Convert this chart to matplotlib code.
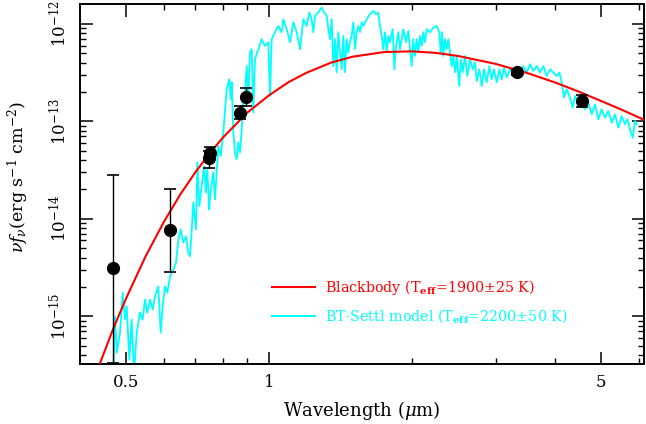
import numpy as np
import matplotlib
matplotlib.use('Agg')
import matplotlib.pyplot as plt
from matplotlib import rcParams
from matplotlib.lines import Line2D
from matplotlib.ticker import FixedLocator, NullFormatter, LogLocator

rcParams['font.family'] = 'DejaVu Serif'
rcParams['mathtext.fontset'] = 'dejavuserif'

# photometry (wavelength in micron, nu f_nu in erg/s/cm2)
phot_wave = [0.469, 0.619, 0.746, 0.752, 0.869, 0.894, 3.33, 4.56]
phot_flux = [3.1e-15, 7.7e-15, 4.25e-14, 4.75e-14, 1.21e-13, 1.77e-13, 3.19e-13, 1.61e-13]
phot_lo = [3.35e-16, 2.85e-15, 3.3e-14, 4.2e-14, 1.05e-13, 1.43e-13, 3.0e-13, 1.39e-13]
phot_hi = [2.83e-14, 2.04e-14, 5.0e-14, 5.4e-14, 1.43e-13, 2.18e-13, 3.38e-13, 1.85e-13]

# blackbody, Teff = 1900 K
bb_wave = [0.42, 0.44, 0.47, 0.50, 0.55, 0.60, 0.65, 0.70, 0.75, 0.80, 0.90, 1.00,
           1.10, 1.20, 1.35, 1.50, 1.75, 2.00, 2.25, 2.50, 3.00, 3.50, 4.00, 4.50,
           5.00, 5.50, 6.00, 6.50]
bb_flux = [1.72e-16, 3.23e-16, 7.46e-16, 1.52e-15, 4.14e-15, 9.20e-15, 1.77e-14,
           3.01e-14, 4.69e-14, 6.83e-14, 1.23e-13, 1.85e-13, 2.53e-13, 3.16e-13,
           4.00e-13, 4.61e-13, 5.15e-13, 5.23e-13, 5.04e-13, 4.69e-13, 3.89e-13,
           3.13e-13, 2.51e-13, 2.01e-13, 1.62e-13, 1.33e-13, 1.10e-13, 9.18e-14]

# BT-Settl model spectrum, log10 wavelength (micron) and log10 nu f_nu
settl_logwave = [
    -0.3305, -0.3278, -0.3242, -0.3206, -0.3137, -0.3080, -0.3032, -0.2996, -0.2941,
    -0.2891, -0.2842, -0.2785, -0.2716, -0.2659, -0.2611, -0.2562, -0.2505, -0.2448,
    -0.2400, -0.2331, -0.2280, -0.2238, -0.2189, -0.2141, -0.2084, -0.2015, -0.1958,
    -0.1909, -0.1859, -0.1804, -0.1747, -0.1699, -0.1663, -0.1627, -0.1594, -0.1537,
    -0.1509, -0.1467, -0.1417, -0.1368, -0.1326, -0.1299, -0.1257, -0.1242, -0.1173,
    -0.1137, -0.1067, -0.1017, -0.0962, -0.0891, -0.0836, -0.0806, -0.0785, -0.0752,
    -0.0716, -0.0680, -0.0646, -0.0611, -0.0575, -0.0541, -0.0505, -0.0469, -0.0436,
    -0.0400, -0.0364, -0.0331, -0.0295, -0.0225, -0.0154, -0.0084, -0.0015, 0.0021,
    0.0057, 0.0126, 0.0196, 0.0267, 0.0301, 0.0373, 0.0442, 0.0512, 0.0583, 0.0653,
    0.0722, 0.0794, 0.0848, 0.0899, 0.0933, 0.0968, 0.1038, 0.1109, 0.1158, 0.1215,
    0.1248, 0.1284, 0.1320, 0.1341, 0.1354, 0.1389, 0.1425, 0.1459, 0.1495, 0.1531,
    0.1564, 0.1600, 0.1636, 0.1669, 0.1705, 0.1741, 0.1775, 0.1811, 0.1846, 0.1880,
    0.1916, 0.1952, 0.1985, 0.2057, 0.2126, 0.2196, 0.2253, 0.2301, 0.2337, 0.2373,
    0.2406, 0.2442, 0.2478, 0.2512, 0.2547, 0.2604, 0.2638, 0.2674, 0.2722, 0.2758,
    0.2794, 0.2827, 0.2884, 0.2933, 0.2968, 0.3004, 0.3038, 0.3074, 0.3109, 0.3143,
    0.3179, 0.3215, 0.3248, 0.3284, 0.3320, 0.3389, 0.3459, 0.3531, 0.3585, 0.3615,
    0.3642, 0.3669, 0.3705, 0.3741, 0.3775, 0.3811, 0.3846, 0.3880, 0.3916, 0.3952,
    0.4006, 0.4036, 0.4078, 0.4126, 0.4175, 0.4232, 0.4288, 0.4337, 0.4373, 0.4427,
    0.4478, 0.4526, 0.4583, 0.4638, 0.4688, 0.4737, 0.4794, 0.4848, 0.4899, 0.4947,
    0.5004, 0.5074, 0.5143, 0.5284, 0.5354, 0.5425, 0.5495, 0.5564, 0.5636, 0.5705,
    0.5775, 0.5846, 0.5916, 0.5985, 0.6057, 0.6112, 0.6162, 0.6211, 0.6267, 0.6337,
    0.6394, 0.6442, 0.6512, 0.6583, 0.6653, 0.6722, 0.6794, 0.6863, 0.6933, 0.7004,
    0.7074, 0.7143, 0.7215, 0.7284, 0.7354, 0.7425, 0.7495, 0.7543, 0.7600, 0.7657,
    0.7705, 0.7741]
settl_logflux = [
    -15.70, -15.60, -15.001, -15.374, -15.169, -14.757, -15.035, -14.898, -15.446,
    -15.035, -15.60, -15.169, -14.963, -15.035, -14.829, -14.963, -14.829, -14.932,
    -14.799, -14.693, -15.169, -14.898, -14.693, -14.757, -14.590, -14.521, -14.449,
    -14.213, -14.110, -14.244, -14.179, -14.346, -14.384, -14.110, -13.832, -14.110,
    -13.421, -13.870, -13.665, -13.459, -13.730, -13.493, -13.904, -13.771, -13.524,
    -13.802, -13.254, -13.357, -13.113, -12.671, -12.568, -12.774, -12.599, -13.113,
    -13.319, -13.391, -13.216, -13.319, -13.082, -12.774, -12.702, -12.432, -12.774,
    -12.291, -12.260, -12.908, -12.363, -12.260, -12.157, -12.226, -12.188, -12.740,
    -12.157, -12.085, -12.021, -12.085, -11.952, -12.054, -12.188, -11.983, -12.085,
    -12.260, -11.952, -12.021, -11.883, -11.952, -12.085, -11.918, -11.883, -11.831,
    -11.883, -11.918, -12.054, -12.157, -11.952, -12.260, -12.432, -12.157, -12.496,
    -12.085, -12.291, -12.466, -12.123, -12.496, -12.157, -12.291, -12.188, -12.123,
    -11.983, -12.260, -12.085, -12.021, -12.085, -11.983, -12.021, -11.952, -11.900,
    -11.866, -11.900, -11.883, -12.021, -12.123, -12.260, -12.085, -12.291, -12.123,
    -12.188, -12.054, -12.466, -12.226, -12.085, -12.260, -12.157, -12.054, -12.188,
    -12.072, -12.260, -12.432, -12.157, -12.329, -12.157, -12.291, -12.123, -12.226,
    -12.085, -12.188, -12.054, -12.085, -12.037, -12.021, -12.085, -12.291, -12.085,
    -12.329, -12.157, -12.260, -12.157, -12.291, -12.432, -12.329, -12.496, -12.329,
    -12.637, -12.363, -12.496, -12.329, -12.534, -12.363, -12.466, -12.394, -12.586,
    -12.466, -12.637, -12.466, -12.599, -12.432, -12.568, -12.466, -12.599, -12.466,
    -12.568, -12.448, -12.551, -12.466, -12.517, -12.499, -12.432, -12.499, -12.414,
    -12.483, -12.432, -12.499, -12.432, -12.534, -12.466, -12.499, -12.534, -12.499,
    -12.602, -12.756, -12.671, -12.756, -12.859, -12.740, -12.825, -12.774, -12.877,
    -12.808, -12.928, -12.825, -12.979, -12.877, -12.962, -12.894, -13.013, -12.928,
    -13.065, -12.946, -13.031, -12.979, -13.082, -13.168, -12.997, -13.031]

fig = plt.figure(figsize=(6.46, 4.24), dpi=100)
ax = fig.add_axes([0.1238, 0.1415, 0.8732, 0.8484])

ax.plot(10 ** np.array(settl_logwave), 10 ** np.array(settl_logflux),
        color='cyan', lw=1.3, zorder=2)
ax.plot(bb_wave, bb_flux, color='red', lw=1.5, zorder=3)

phot_flux = np.array(phot_flux)
yerr = [phot_flux - np.array(phot_lo), np.array(phot_hi) - phot_flux]
ax.errorbar(phot_wave, phot_flux, yerr=yerr, fmt='o', color='black', ms=8.5,
            elinewidth=1.0, capsize=4, capthick=1.2, zorder=4)

ax.set_xscale('log')
ax.set_yscale('log')
ax.set_xlim(0.40, 6.16)
ax.set_ylim(3.24e-16, 1.59e-12)

ax.xaxis.set_major_locator(FixedLocator([0.5, 1, 5]))
ax.xaxis.set_minor_locator(FixedLocator([0.6, 0.7, 0.8, 0.9, 2, 3, 4, 6]))
ax.set_xticklabels(['0.5', '1', '5'])
ax.xaxis.set_minor_formatter(NullFormatter())
ax.yaxis.set_major_locator(FixedLocator([1e-15, 1e-14, 1e-13, 1e-12]))
ax.yaxis.set_minor_locator(LogLocator(base=10, subs=np.arange(2, 10)))
ax.yaxis.set_minor_formatter(NullFormatter())

ax.tick_params(which='both', direction='in', top=True, right=True, labelsize=12)
ax.tick_params(which='major', length=9, width=1.1, pad=7)
ax.tick_params(which='minor', length=4.5, width=1.0)
for lab in ax.get_yticklabels():
    lab.set_rotation(90)
    lab.set_va('center')
for sp in ax.spines.values():
    sp.set_linewidth(1.4)

ax.set_xlabel(r'Wavelength ($\mu$m)', fontsize=13, labelpad=6)
ax.set_ylabel(r'$\nu f_\nu$(erg s$^{-1}$ cm$^{-2}$)', fontsize=12.5)
ax.yaxis.set_label_coords(-0.087, 0.52)

handles = [Line2D([], [], color='red', lw=1.5),
           Line2D([], [], color='cyan', lw=1.5)]
labels = [r'Blackbody (T$_{\mathbf{eff}}$=1900$\pm$25 K)',
          r'BT-Settl model (T$_{\mathbf{eff}}$=2200$\pm$50 K)']
ax.legend(handles, labels, loc='upper left', bbox_to_anchor=(0.327, 0.26),
          frameon=False, fontsize=10.3, handlelength=3.0, handletextpad=0.75,
          labelspacing=0.75, labelcolor='linecolor', borderpad=0)

fig.savefig('out.png', dpi=100)
